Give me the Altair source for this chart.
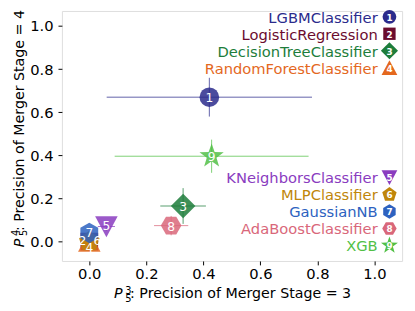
import math
import altair as alt
import pandas as pd

# ---- data ----
models = ["LGBMClassifier", "LogisticRegression", "DecisionTreeClassifier",
          "RandomForestClassifier", "KNeighborsClassifier", "MLPClassifier",
          "GaussianNB", "AdaBoostClassifier", "XGB"]
ids = ["1", "2", "3", "4", "5", "6", "7", "8", "9"]
colors = ["#2b2b8c", "#6b0c2e", "#1d7d3b", "#e4681e", "#8a3cbf",
          "#c0860a", "#2d62c0", "#d9677a", "#52c046"]
p3 = [0.421, 0.0, 0.329, 0.0, 0.06, 0.0, 0.0, 0.287, 0.429]
p4 = [0.670, 0.0, 0.165, 0.0, 0.07, 0.0, 0.04, 0.074, 0.396]
p3_err = [0.36, 0.0, 0.08, 0.0, 0.03, 0.0, 0.0, 0.06, 0.34]
p4_err = [0.09, 0.0, 0.083, 0.0, 0.02, 0.0, 0.0, 0.045, 0.077]
# where the number labels sit (nudged apart in the crowded corner)
label_p3 = [0.421, -0.024, 0.329, 0.0, 0.06, 0.028, 0.0, 0.287, 0.429]
label_p4 = [0.670, 0.006, 0.165, -0.027, 0.075, 0.006, 0.045, 0.074, 0.396]
x_ticks = [0.0, 0.2, 0.4, 0.6, 0.8, 1.0]
y_ticks = [0.0, 0.2, 0.4, 0.6, 0.8, 1.0]


# ---- marker shapes (style) ----
def poly(n, r, start_deg):
    pts = []
    for k in range(n):
        a = math.radians(start_deg + k * 360.0 / n)
        pts.append((r * math.cos(a), r * math.sin(a)))
    return "M" + "L".join(f"{x:.3f},{y:.3f}" for x, y in pts) + "Z"


def star(ro, ri):
    pts = []
    for k in range(10):
        r = ro if k % 2 == 0 else ri
        a = math.radians(-90 + k * 36)
        pts.append((r * math.cos(a), r * math.sin(a)))
    return "M" + "L".join(f"{x:.3f},{y:.3f}" for x, y in pts) + "Z"


shapes = [
    "circle",
    "M-0.9,-0.9L0.9,-0.9L0.9,0.9L-0.9,0.9Z",
    "M0,-1.25L1.25,0L0,1.25L-1.25,0Z",
    "M0,-1.1L1.15,1.05L-1.15,1.05Z",
    "M0,1.1L1.15,-1.05L-1.15,-1.05Z",
    poly(5, 1.1, -90),
    poly(6, 1.05, -90),
    poly(6, 1.05, 0),
    star(1.3, 0.52),
]

df = pd.DataFrame({
    "model": models, "id": ids, "k": list(range(1, 10)),
    "p3": p3, "p4": p4, "e3": p3_err, "e4": p4_err,
    "l3": label_p3, "l4": label_p4,
})

FONT = "DejaVu Sans"
xs = alt.Scale(domain=[-0.096, 1.097], nice=False, zero=False)
ys = alt.Scale(domain=[-0.09, 1.07], nice=False, zero=False)
cs = alt.Scale(domain=models, range=colors)
ss = alt.Scale(domain=models, range=shapes)

xaxis = alt.Axis(values=x_ticks, format=".1f", title=None, grid=False, domain=False,
                 tickSize=4, tickColor="black", labelFontSize=15, labelFont=FONT,
                 labelColor="black", labelPadding=2)
yaxis = alt.Axis(values=y_ticks, format=".1f", title=None, grid=False, domain=False,
                 tickSize=4, tickColor="black", labelFontSize=15, labelFont=FONT,
                 labelColor="black", labelPadding=5)

base = alt.Chart(df)

xerr = base.transform_calculate(
    lo="datum.p3 - datum.e3", hi="datum.p3 + datum.e3"
).mark_rule(strokeWidth=1, opacity=0.75).encode(
    x=alt.X("lo:Q", scale=xs, axis=xaxis), x2="hi:Q",
    y=alt.Y("p4:Q", scale=ys, axis=yaxis),
    color=alt.Color("model:N", scale=cs, legend=None),
)
yerr = base.transform_calculate(
    lo="datum.p4 - datum.e4", hi="datum.p4 + datum.e4"
).mark_rule(strokeWidth=1, opacity=0.75).encode(
    x=alt.X("p3:Q", scale=xs), y=alt.Y("lo:Q", scale=ys), y2="hi:Q",
    color=alt.Color("model:N", scale=cs, legend=None),
)
pts = base.mark_point(filled=True, opacity=0.85, strokeWidth=0).encode(
    x=alt.X("p3:Q", scale=xs), y=alt.Y("p4:Q", scale=ys),
    color=alt.Color("model:N", scale=cs, legend=None),
    shape=alt.Shape("model:N", scale=ss, legend=None),
    size=alt.value(400),
)
nums = base.mark_text(color="white", fontSize=12.5, font=FONT, align="center",
                      baseline="middle", dy=1).encode(
    x=alt.X("l3:Q", scale=xs), y=alt.Y("l4:Q", scale=ys), text="id:N",
)

# ---- custom legend (upper group 1-4, lower group 5-9) ----
leg = base.transform_calculate(
    ly="datum.k <= 4 ? 1.043 - (datum.k - 1) * 0.0787 : 0.297 - (datum.k - 5) * 0.0787",
    mx="1.0526", tx="1.0114",
)
leg_pts = leg.mark_point(filled=True, opacity=1, strokeWidth=0).encode(
    x=alt.X("mx:Q", scale=xs), y=alt.Y("ly:Q", scale=ys),
    color=alt.Color("model:N", scale=cs, legend=None),
    shape=alt.Shape("model:N", scale=ss, legend=None),
    size=alt.value(196),
)
leg_nums = leg.mark_text(color="white", fontSize=9, fontWeight="bold", font=FONT,
                         align="center", baseline="middle", dy=1).encode(
    x=alt.X("mx:Q", scale=xs), y=alt.Y("ly:Q", scale=ys), text="id:N",
)
leg_txt = leg.mark_text(fontSize=15, font=FONT, align="right", baseline="middle", dy=1).encode(
    x=alt.X("tx:Q", scale=xs), y=alt.Y("ly:Q", scale=ys), text="model:N",
    color=alt.Color("model:N", scale=cs, legend=None),
)

# ---- axis titles with sub/superscripts ----
one = pd.DataFrame({"t": [0]})


def txt(s, x, y, size=14.5, style="normal", angle=0, align="left"):
    return alt.Chart(one).mark_text(
        text=s, fontSize=size, font=FONT, fontStyle=style, angle=angle,
        align=align, baseline="alphabetic", color="black",
    ).encode(x=alt.value(x), y=alt.value(y))


titles = [
    txt("P", 53, 293, style="italic"),
    txt("3", 64.5, 288.5, size=10),
    txt("5", 64.5, 296.5, size=10),
    txt(": Precision of Merger Stage = 3", 69.5, 293),
    txt("P", -39, 241, style="italic", angle=270),
    txt("4", -43.5, 229.5, size=10, angle=270),
    txt("5", -35.5, 229.5, size=10, angle=270),
    txt(": Precision of Merger Stage = 4", -39, 224.5, angle=270),
]

chart = alt.layer(xerr, yerr, pts, nums, leg_pts, leg_nums, leg_txt, *titles).properties(
    width=347, height=255,
    autosize=alt.AutoSizeParams(type="none"),
    padding={"left": 55, "top": 0, "right": 5, "bottom": 48},
).configure_view(stroke="#222", strokeWidth=1).configure(background="white")

chart.save("out.html", embed_options={"renderer": "svg", "actions": False})
